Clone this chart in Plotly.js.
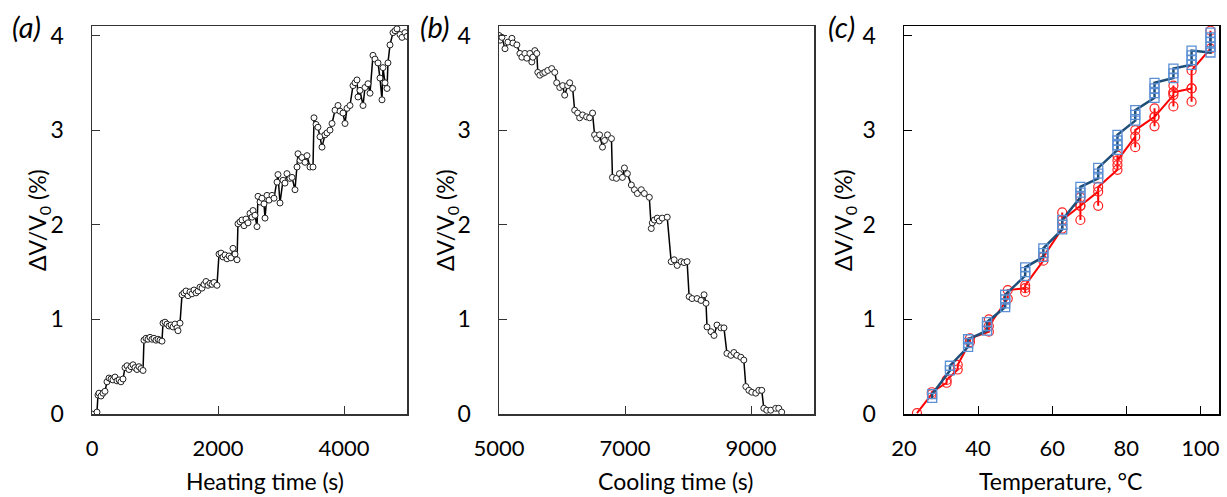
<!DOCTYPE html>
<html>
<head>
<meta charset="utf-8">
<script src="https://cdn.plot.ly/plotly-3.0.1.min.js"></script>
<style>html,body{margin:0;padding:0;background:#fff;}#chart{width:1227px;height:497px;}</style>
</head>
<body>
<div id="chart"></div>
<script>
// (a) heating time (s) vs dV/V0 (%)
const heatTime = [0,79,95,111,143,175,206,238,270,302,333,365,397,429,460,492,524,556,587,619,651,683,714,746,778,810,825,857,889,921,952,984,1016,1048,1079,1111,1127,1159,1190,1222,1254,1286,1317,1349,1365,1397,1429,1460,1492,1524,1556,1587,1619,1651,1683,1714,1746,1778,1810,1841,1873,1905,1937,1984,2016,2048,2079,2111,2143,2175,2206,2238,2270,2302,2317,2349,2381,2413,2444,2476,2508,2540,2556,2587,2619,2635,2667,2698,2730,2746,2778,2810,2857,2889,2937,2952,2984,3032,3063,3095,3143,3175,3222,3254,3270,3302,3333,3381,3413,3460,3508,3524,3556,3587,3619,3651,3698,3730,3778,3810,3857,3905,3937,3984,4016,4048,4095,4143,4175,4206,4222,4254,4302,4333,4381,4413,4460,4492,4540,4571,4603,4619,4651,4683,4698,4730,4778,4810,4841,4889,4921,4968,5000];
const heatDV = [0,0.02,0.20,0.22,0.19,0.22,0.24,0.34,0.38,0.37,0.36,0.39,0.35,0.36,0.34,0.37,0.49,0.51,0.47,0.50,0.52,0.49,0.47,0.50,0.48,0.46,0.78,0.80,0.79,0.81,0.79,0.80,0.78,0.79,0.78,0.77,0.96,0.97,0.95,0.93,0.94,0.92,0.95,0.91,0.88,0.96,1.26,1.28,1.30,1.25,1.29,1.27,1.31,1.28,1.30,1.34,1.33,1.37,1.40,1.36,1.38,1.37,1.39,1.36,1.69,1.70,1.66,1.68,1.64,1.67,1.65,1.75,1.69,1.63,2.01,2.03,2.05,1.99,2.06,2.02,2.12,2.08,2.15,2.10,1.98,2.30,2.24,2.28,2.22,2.07,2.31,2.26,2.31,2.28,2.45,2.53,2.23,2.47,2.44,2.54,2.49,2.50,2.37,2.61,2.75,2.68,2.71,2.66,2.73,2.61,2.61,3.13,3.06,3.03,2.93,2.82,2.95,2.97,3.00,3.07,3.21,3.26,3.20,3.18,3.07,3.23,3.26,3.47,3.50,3.53,3.35,3.42,3.26,3.45,3.49,3.39,3.79,3.75,3.71,3.55,3.32,3.66,3.50,3.44,3.71,3.90,4.03,4.05,4.07,4.01,3.98,4.03,3.99];

// (b) cooling time (s) vs dV/V0 (%)
const coolTime = [5000,5016,5047,5095,5142,5205,5221,5284,5332,5363,5411,5442,5490,5521,5537,5569,5600,5616,5648,5695,5727,5774,5837,5885,5916,5964,6011,6043,6090,6122,6169,6201,6248,6280,6327,6390,6438,6485,6517,6548,6596,6643,6675,6722,6785,6801,6864,6912,6959,6991,7038,7101,7149,7196,7259,7307,7386,7417,7433,7465,7512,7544,7591,7670,7733,7780,7828,7891,7938,7986,8018,8065,8144,8207,8255,8286,8302,8365,8413,8460,8523,8571,8618,8681,8728,8776,8839,8886,8918,8966,9013,9076,9124,9171,9203,9250,9313,9392,9440,9487];
const coolDV = [4.00,3.95,3.98,3.86,3.93,3.97,3.92,3.90,3.81,3.77,3.81,3.76,3.81,3.72,3.77,3.84,3.81,3.61,3.58,3.60,3.61,3.63,3.65,3.61,3.50,3.45,3.47,3.37,3.47,3.50,3.44,3.21,3.18,3.13,3.16,3.14,3.13,3.18,2.95,2.91,2.95,2.82,2.89,2.95,2.91,2.50,2.49,2.54,2.50,2.60,2.54,2.42,2.37,2.33,2.37,2.33,2.29,1.96,2.02,2.05,2.07,2.04,2.07,2.08,1.61,1.63,1.57,1.61,1.60,1.61,1.24,1.22,1.22,1.20,1.26,1.17,0.92,0.87,0.83,0.94,0.91,0.91,0.64,0.62,0.65,0.62,0.60,0.57,0.29,0.25,0.23,0.22,0.25,0.25,0.06,0.04,0.04,0.06,0.06,0.02];

// (c) temperature (°C) vs dV/V0 (%)
const tempHeat = [23.5,27.5,27.5,31.5,31.5,34.5,34.5,37.8,37.8,42.9,42.9,42.9,48,48,52.7,52.7,52.7,57.6,57.6,62.7,62.7,62.7,67.6,67.6,67.6,67.6,72.4,72.4,72.4,77.6,77.6,77.6,77.6,82.4,82.4,82.4,87.6,87.6,87.6,87.6,92.7,92.7,92.7,92.7,92.7,97.6,97.6,97.6,97.6,102.7,102.7];
const tempHeatDV = [0.01,0.21,0.23,0.33,0.36,0.47,0.52,0.76,0.80,0.87,1.00,0.93,1.22,1.31,1.33,1.29,1.36,1.62,1.66,1.96,2.13,2.05,2.20,2.05,2.29,2.20,2.35,2.20,2.40,2.58,2.63,2.73,2.68,2.93,2.82,3.00,3.14,3.04,3.23,3.14,3.37,3.25,3.40,3.47,3.40,3.44,3.30,3.44,3.63,3.86,4.05];
const tempCool = [102.7,102.7,102.7,102.7,102.7,97.6,97.6,97.6,97.6,92.7,92.7,92.7,87.6,87.6,87.6,87.6,82.4,82.4,82.4,77.6,77.6,77.6,77.6,72.4,72.4,72.4,67.6,67.6,67.6,62.7,62.7,62.7,57.6,57.6,57.6,52.7,52.7,52.7,47.3,47.3,47.3,47.3,42.4,42.4,42.4,37.3,37.3,37.3,32.4,32.4,27.6,27.6];
const tempCoolDV = [4.03,3.98,3.93,3.88,3.82,3.84,3.79,3.74,3.69,3.65,3.60,3.55,3.50,3.44,3.39,3.34,3.21,3.16,3.10,2.95,2.89,2.84,2.79,2.60,2.54,2.49,2.40,2.34,2.29,2.05,2.00,1.95,1.75,1.70,1.66,1.55,1.50,1.46,1.26,1.21,1.17,1.13,0.97,0.93,0.88,0.79,0.75,0.71,0.51,0.46,0.21,0.17];

const xTicksA = [0,2000,4000];
const xTicksB = [5000,7000,9000];
const xTicksC = [20,40,60,80,100];
const yTicks = [0,1,2,3,4];

const FONT = 'Lato, "Open Sans", sans-serif';
const blackMarker = {symbol:'circle', size:6, color:'#ffffff', line:{color:'#222', width:1}};

const traces = [
  {x:heatTime, y:heatDV, xaxis:'x', yaxis:'y', mode:'lines+markers', line:{color:'#000', width:1.5}, marker:blackMarker, showlegend:false},
  {x:coolTime, y:coolDV, xaxis:'x2', yaxis:'y2', mode:'lines+markers', line:{color:'#000', width:1.5}, marker:blackMarker, showlegend:false},
  {x:tempHeat, y:tempHeatDV, xaxis:'x3', yaxis:'y3', mode:'lines+markers', line:{color:'#ff0000', width:2}, marker:{symbol:'circle-open', size:9, color:'#ff2020', line:{width:1.2}}, showlegend:false},
  {x:tempCool, y:tempCoolDV, xaxis:'x3', yaxis:'y3', mode:'lines+markers', line:{color:'#1f4e79', width:2.5}, marker:{symbol:'square-open', size:9, color:'#5b8fd4', line:{width:1.3}}, showlegend:false}
];

const H = 497, W = 1227;
const yDom = [(H-414)/H, (H-26)/H];
function xax(dom, range, ticks, lc) {
  return {
    domain: dom, range: range, tickvals: ticks, ticktext: ticks.map(String),
    ticks: 'inside', ticklen: 8, tickcolor: lc, tickwidth: 1,
    showline: true, linecolor: lc, linewidth: 1.5, mirror: true,
    showgrid: false, zeroline: false, ticklabelstandoff: 14,
    tickfont: {family: FONT, size: 22, color: '#000'}
  };
}
function yax(anchor, lc) {
  return {
    domain: yDom, range: [0, 4.1], tickvals: yTicks, anchor: anchor,
    ticks: 'inside', ticklen: 8, tickcolor: lc, tickwidth: 1,
    showline: true, linecolor: lc, linewidth: 1.5, mirror: true,
    showgrid: false, zeroline: false, ticklabelstandoff: 22,
    tickfont: {family: FONT, size: 23, color: '#000'}
  };
}
function ann(text, px, py, size, angle) {
  return {text: text, x: px/W, y: 1-py/H, xref:'paper', yref:'paper', showarrow:false,
          textangle: angle || 0, xanchor:'center', yanchor:'middle',
          font:{family:FONT, size:size, color:'#000'}};
}
const layout = {
  width: W, height: H, margin: {l:0, r:0, t:0, b:0},
  paper_bgcolor: '#fff', plot_bgcolor: '#fff', showlegend: false,
  xaxis: Object.assign(xax([92/W, 407/W], [0, 5000], xTicksA, '#333'), {anchor:'y'}),
  yaxis: yax('x', '#333'),
  xaxis2: Object.assign(xax([499/W, 814/W], [5000, 10000], xTicksB, '#333'), {anchor:'y2'}),
  yaxis2: yax('x2', '#333'),
  xaxis3: Object.assign(xax([904/W, 1219/W], [20, 105], xTicksC, '#000'), {anchor:'y3'}),
  yaxis3: yax('x3', '#000'),
  annotations: [
    ann('<i>(a)</i>', 26, 26, 29),
    ann('<i>(b)</i>', 435, 26, 29),
    ann('<i>(c)</i>', 841, 26, 29),
    ann('ΔV/V<sub>0</sub> (%)', 38, 220, 23, -90),
    ann('ΔV/V<sub>0</sub> (%)', 446, 220, 23, -90),
    ann('ΔV/V<sub>0</sub> (%)', 844, 220, 23, -90),
    ann('Heating time (s)', 265, 481, 23),
    ann('Cooling time (s)', 675, 481, 23),
    ann('Temperature, °C', 1060, 481, 23)
  ]
};
Plotly.newPlot('chart', traces, layout, {displayModeBar:false, staticPlot:true});
</script>
</body>
</html>
